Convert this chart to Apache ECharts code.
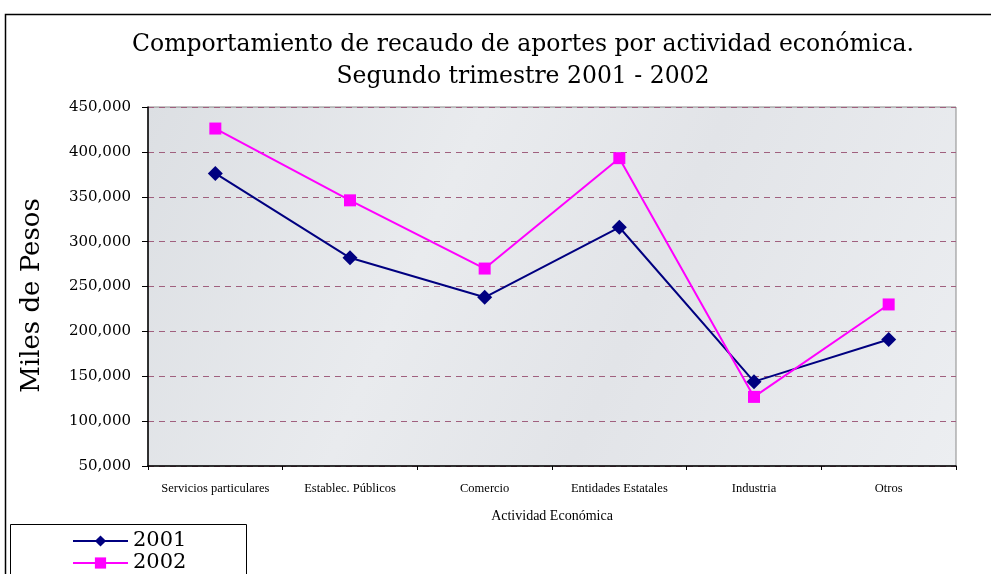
<!DOCTYPE html>
<html>
<head>
<meta charset="utf-8">
<script src="https://cdn.jsdelivr.net/npm/echarts@6/dist/echarts.min.js"></script>
<style>
  html, body { margin: 0; padding: 0; background: #fff; }
  #main { width: 991px; height: 574px; }
</style>
</head>
<body>
<div id="main"></div>
<script>
// categorias y valores (miles de pesos)
var categorias = ['Servicios particulares', 'Establec. Públicos', 'Comercio', 'Entidades Estatales', 'Industria', 'Otros'];
var serie2001 = [376000, 282000, 238000, 316000, 144000, 191000];
var serie2002 = [426000, 346000, 270000, 393000, 127000, 230000];
var anios = ['2001', '2002'];

var serif = 'DejaVu Serif';
var chart = echarts.init(document.getElementById('main'));

chart.setOption({
    backgroundColor: '#fff',
    animation: false,
    title: {
        text: 'Comportamiento de recaudo de aportes por actividad económica.\nSegundo trimestre 2001 - 2002',
        left: 518,
        textAlign: 'center',
        top: 24,
        textStyle: { fontFamily: serif, fontWeight: 'normal', fontSize: 23.5, lineHeight: 32, color: '#000' }
    },
    graphic: [{
        // marco exterior
        type: 'rect',
        shape: { x: 5.5, y: 14.5, width: 995, height: 570 },
        style: { fill: null, stroke: '#000', lineWidth: 1.5 },
        z: -1
    }, {
        // caja de la leyenda
        type: 'rect',
        shape: { x: 10.5, y: 524.5, width: 236, height: 60 },
        style: { fill: '#fff', stroke: '#000', lineWidth: 1 },
        z: 50
    }],
    legend: {
        orient: 'vertical',
        left: 72,
        top: 530,
        data: anios,
        itemWidth: 55,
        itemHeight: 14,
        itemGap: 0,
        padding: 0,
        z: 60,
        textStyle: { fontFamily: serif, fontSize: 21, lineHeight: 22, color: '#000' }
    },
    grid: {
        left: 148,
        right: 35,
        top: 107,
        bottom: 108,
        show: true,
        borderColor: '#8a8a8a',
        borderWidth: 1,
        backgroundColor: new echarts.graphic.LinearGradient(0, 0, 1, 1, [
            { offset: 0, color: '#dcdfe3' },
            { offset: 0.35, color: '#e9ebee' },
            { offset: 0.6, color: '#e2e4e8' },
            { offset: 1, color: '#eceef1' }
        ])
    },
    xAxis: {
        type: 'category',
        data: categorias,
        name: 'Actividad Económica',
        nameLocation: 'middle',
        nameGap: 43,
        nameTextStyle: { fontFamily: 'Liberation Serif', fontSize: 14, color: '#000' },
        axisLine: { lineStyle: { color: '#000', width: 1.5 } },
        axisTick: { show: true, interval: 0, length: 4, lineStyle: { color: '#000' } },
        axisLabel: { interval: 0, hideOverlap: false, fontFamily: 'Liberation Serif', fontSize: 12.5, color: '#000', margin: 16 },
        splitLine: { show: false }
    },
    yAxis: {
        type: 'value',
        min: 50000,
        max: 450000,
        interval: 50000,
        name: 'Miles de Pesos',
        nameLocation: 'middle',
        nameGap: 103,
        nameRotate: 90,
        nameTextStyle: { fontFamily: serif, fontSize: 26, color: '#000', padding: [0, 18, 0, 0] },
        axisLine: { show: true, lineStyle: { color: '#000', width: 1.5 } },
        axisTick: { show: true, inside: false, length: 6, lineStyle: { color: '#000' } },
        axisLabel: {
            fontFamily: serif, fontSize: 15, color: '#000', margin: 17,
            formatter: function (v) { return v.toLocaleString('en-US'); }
        },
        splitLine: { show: true, lineStyle: { color: '#a0607e', type: [6, 5], width: 1 } }
    },
    series: [{
        name: anios[0],
        type: 'line',
        data: serie2001,
        symbol: 'diamond',
        symbolSize: 15,
        color: '#000080',
        lineStyle: { width: 2, color: '#000080' },
        itemStyle: { color: '#000080' }
    }, {
        name: anios[1],
        type: 'line',
        data: serie2002,
        symbol: 'rect',
        symbolSize: 12,
        color: '#ff00ff',
        lineStyle: { width: 2, color: '#ff00ff' },
        itemStyle: { color: '#ff00ff' }
    }]
});
</script>
</body>
</html>
